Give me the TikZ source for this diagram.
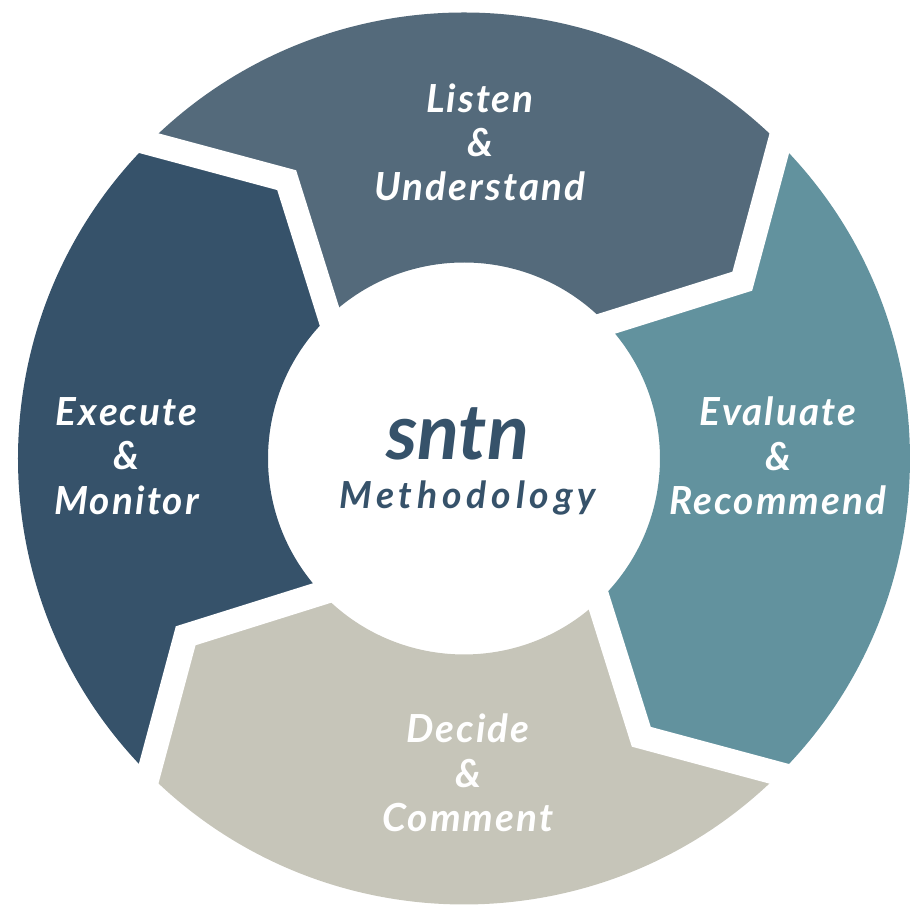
\documentclass[tikz,border=0pt]{standalone}
\usepackage{fontspec}
\setmainfont{Lato}
\newfontfamily\segfont[LetterSpace=5.5]{Lato}
\newfontfamily\methodfont[LetterSpace=13]{Lato}
\usepackage{xcolor}
\usetikzlibrary{calc}

\definecolor{listencol}{HTML}{546A7B}
\definecolor{evalcol}{HTML}{62929E}
\definecolor{decidecol}{HTML}{C6C5B9}
\definecolor{execcol}{HTML}{36526A}

\begin{document}
\begin{tikzpicture}[x=0.01cm, y=0.01cm,
        gap/.style={draw=white, line width=0.24cm, line join=miter},
        seglabel/.style={text=white, align=center, font=\segfont\bfseries\itshape\fontsize{11}{12.6}\selectfont}]

        \useasboundingbox (-464,-460.5) rectangle (456,458.5);

        % corners of the chevron gaps
        \foreach \g/\a in {nw/135, ne/45, se/-45, sw/-135} {
            \coordinate (\g o) at (\a:446);
            \coordinate (\g b) at (\a-12.5:330);
            \coordinate (\g i) at (\a-1.6:196);
        }

        % ring segments
        \foreach \a/\s/\e/\c in {135/nw/ne/listencol, 45/ne/se/evalcol, -45/se/sw/decidecol, -135/sw/nw/execcol} {
            \fill[\c] (\s o) arc[start angle=\a, end angle=\a-90, radius=446] -- (\e b) -- (\e i)
                arc[start angle=\a-91.6, end angle=\a-1.6, radius=196] -- (\s b) -- cycle;
        }

        % white gaps between segments
        \foreach \g in {nw, ne, se, sw}
            \draw[gap] ($(\g o)!-0.2!(\g b)$) -- (\g b) -- ($(\g i)!-0.3!(\g b)$);

        \node[seglabel] (listen) at (16,316) {Listen\\\&\\Understand};
        \node[seglabel] (evaluate) at (314,2.5) {Evaluate\\\&\\Recommend};
        \node[seglabel] (decide) at (4,-314.4) {Decide\\\&\\Comment};
        \node[seglabel] (execute) at (-337.3,2.5) {Execute\\\&\\Monitor};

        \node[anchor=base, text=execcol, font=\bfseries\itshape\fontsize{22}{22}\selectfont] (brand) at (-6.5,-1.5) {sntn};
        \node[anchor=base, text=execcol, font=\methodfont\bfseries\itshape\fontsize{10.6}{10.6}\selectfont] (method) at (3.5,-49.8) {Methodology};

    \end{tikzpicture}
\end{document}
